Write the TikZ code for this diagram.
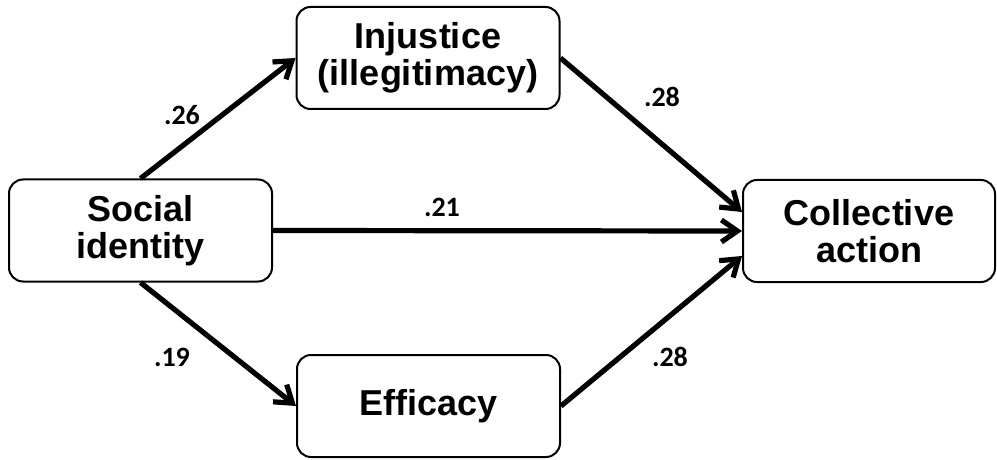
\documentclass[tikz,border=0pt]{standalone}
\usepackage{fontspec}
\setmainfont{Liberation Sans}
\newfontfamily\numfont{Carlito}
\usetikzlibrary{arrows.meta}

\begin{document}
\begin{tikzpicture}[x=0.5pt,y=-0.5pt,
    box/.style={draw,line width=1pt,rounded corners=7pt,minimum width=131.5pt,minimum height=51pt,
      align=center,font=\fontsize{18}{18.5}\selectfont\bfseries},
    arr/.style={line width=2.6pt,-{Straight Barb[length=8pt,width=11pt]}},
    coef/.style={font=\fontsize{14}{16}\selectfont\numfont\bfseries}]
          \useasboundingbox (0,0) rectangle (997,460);

          \node[box] (soc) at (140.5,230.5) {Social\\identity};
          \node[box] (inj) at (428,58) {Injustice\\(illegitimacy)};
          \node[box] (eff) at (428.5,406) {Efficacy};
          \node[box,minimum width=126pt] (col) at (869,231) {Collective\\action};

          \draw[arr] (soc.north) -- (inj.west);
          \draw[arr] (soc.south) -- (eff.west);
          \draw[arr] (soc.east) -- (col.west);
          \draw[arr] (inj.east) -- ([yshift=9.5pt]col.west);
          \draw[arr] (eff.east) -- ([yshift=-12.5pt]col.west);

          \node[coef] (c26) at (182,115) {.26};
          \node[coef] (c19) at (172,357) {.19};
          \node[coef] (c21) at (442,207) {.21};
          \node[coef] (c28a) at (662,97) {.28};
          \node[coef] (c28b) at (670,357) {.28};
        \end{tikzpicture}
\end{document}
